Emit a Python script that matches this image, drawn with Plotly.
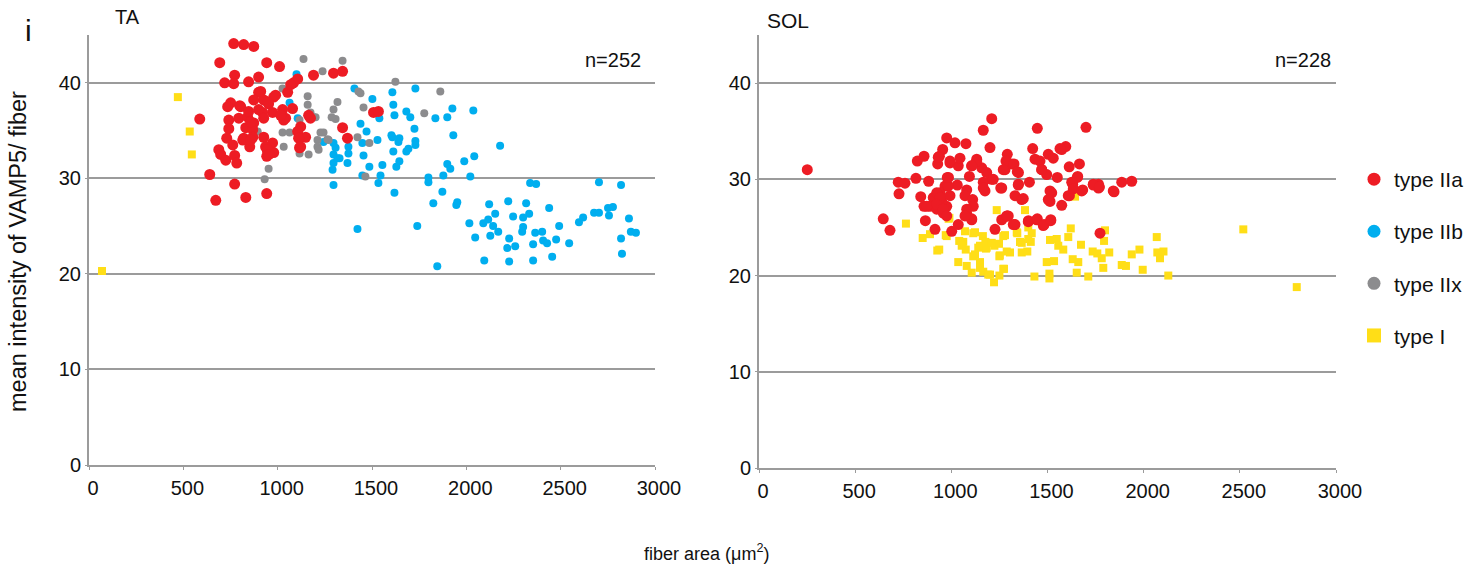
import plotly.graph_objects as go

# ---------------- TA data ----------------
ta_IIa_x = [767, 820, 873, 693, 942, 1010, 772, 899, 719, 767, 846, 1106, 1084, 1190, 1296, 1344,
            899, 873, 926, 979, 1053, 1069, 751, 735, 799, 952, 920, 973, 1026, 1079, 1042, 587,
            741, 794, 841, 873, 741, 831, 868, 1122, 1106, 1164, 1174, 730, 820, 868, 926, 1148,
            1111, 762, 852, 973, 1116, 688, 698, 947, 979, 725, 772, 783, 942, 1344, 1370, 640,
            772, 672, 831, 942, 1508, 1534, 910, 947, 804, 846, 899, 1032, 1016, 926, 857, 936,
            815, 1122, 989, 857, 945, 954]
ta_IIa_y = [44.1, 44.0, 43.8, 42.1, 42.1, 41.7, 40.8, 40.6, 40.0, 39.9, 40.1, 40.4, 40.0, 40.8, 41.0, 41.2,
            39.0, 38.2, 38.2, 38.5, 39.0, 39.8, 37.9, 37.5, 37.6, 37.8, 36.9, 36.9, 37.2, 37.3, 36.3, 36.2,
            36.1, 36.3, 36.4, 35.8, 35.2, 35.3, 35.1, 35.4, 34.9, 36.6, 36.3, 34.2, 34.2, 34.3, 34.3, 34.3,
            34.2, 33.5, 33.3, 33.7, 33.2, 33.0, 32.5, 32.8, 32.7, 31.9, 32.4, 31.6, 32.3, 35.3, 34.2, 30.4,
            29.4, 27.7, 28.0, 28.4, 36.9, 37.0, 39.1, 38.0, 37.5, 37.0, 37.2, 36.1, 36.6, 36.3, 35.9, 33.3,
            34.0, 33.3, 38.7, 34.0, 33.0, 32.5]

ta_IIb_x = [1100, 1063, 1106, 1407, 1608, 1730, 1502, 1613, 1619, 1682, 1703, 1539, 1836, 1899, 1926, 2037,
            1439, 1471, 1725, 1603, 1645, 1640, 1730, 1730, 1529, 1449, 1931, 1296, 1307, 1375, 1375, 1296,
            1317, 1370, 1296, 1291, 1296, 1455, 1613, 1693, 1682, 1486, 1555, 1645, 1629, 1545, 1534, 1449,
            1899, 1915, 1989, 2042, 1878, 2021, 1799, 1799, 1873, 1825, 1619, 1947, 1952, 2179, 1423, 1740,
            1846, 2338, 2370, 2703, 2820, 2016, 2047, 2121, 2153, 2090, 2116, 2142, 2169, 2127, 2222, 2248,
            2317, 2333, 2301, 2301, 2296, 2365, 2402, 2439, 2227, 2217, 2259, 2354, 2407, 2428, 2476, 2492,
            2545, 2455, 2354, 2227, 2095, 2597, 2619, 2677, 2703, 2751, 2777, 2756, 2862, 2820, 2872, 2899,
            2825, 1243, 1608, 1328]
ta_IIb_y = [40.9, 37.9, 36.3, 39.4, 39.0, 39.4, 38.3, 37.7, 36.6, 37.0, 36.4, 36.3, 36.3, 36.4, 37.3, 37.1,
            35.7, 34.9, 35.2, 34.5, 34.2, 33.8, 33.9, 33.5, 34.0, 33.7, 34.5, 33.7, 33.2, 33.3, 32.6, 32.5,
            32.1, 31.6, 31.6, 30.9, 29.3, 32.4, 32.8, 33.1, 32.8, 31.2, 31.4, 31.8, 31.2, 30.3, 29.5, 30.3,
            31.5, 31.0, 31.8, 32.3, 30.3, 30.2, 30.1, 29.6, 28.6, 27.4, 28.5, 27.2, 27.5, 33.4, 24.7, 25.0,
            20.8, 29.5, 29.4, 29.6, 29.3, 25.3, 23.8, 27.3, 26.3, 25.3, 25.7, 25.0, 24.4, 24.0, 27.6, 26.0,
            27.4, 26.3, 25.9, 24.9, 24.4, 24.3, 24.4, 26.9, 23.7, 22.7, 22.9, 23.1, 23.5, 23.2, 23.6, 25.0,
            23.2, 21.8, 21.4, 21.3, 21.4, 25.4, 25.9, 26.4, 26.4, 26.9, 27.0, 26.1, 25.8, 23.7, 24.4, 24.3,
            22.1, 33.8, 34.3, 32.1]

ta_IIx_x = [1137, 1344, 1238, 1624, 1862, 1026, 1159, 1159, 1317, 1296, 1428, 1439, 1455, 1777, 1190, 1307,
            1286, 1026, 1063, 1032, 1116, 1164, 1211, 1227, 1211, 1217, 1243, 1264, 1270, 1423, 1486, 952,
            931, 1465, 894, 1116, 1174, 1201]
ta_IIx_y = [42.5, 42.3, 41.2, 40.1, 39.1, 39.4, 38.6, 37.7, 38.0, 37.2, 39.1, 38.9, 37.4, 36.8, 36.4, 36.2,
            36.4, 34.8, 34.8, 33.3, 32.6, 32.5, 34.0, 34.8, 33.3, 33.0, 34.8, 34.1, 34.0, 34.3, 33.7, 31.0,
            29.9, 30.2, 34.9, 36.1, 36.9, 36.4]

ta_I_x = [471, 534, 545, 69]
ta_I_y = [38.5, 34.9, 32.5, 20.3]

# ---------------- SOL data ----------------
sol_IIa_x = [251, 646, 681, 724, 759, 728, 816, 823, 858, 882, 841, 858, 865, 915, 929, 955,
             938, 976, 1019, 1076, 993, 1036, 1045, 985, 967, 941, 906, 889, 924, 958, 976, 950,
             993, 1031, 1002, 1036, 1094, 1106, 1132, 1158, 1080, 1071, 1111, 1114, 1080, 1106, 1166, 1210,
             1201, 1184, 1210, 1175, 1166, 1227, 1257, 1291, 1279, 1314, 1349, 1331, 1366, 1349, 1296, 1331,
             1262, 1401, 1406, 1423, 1447, 1435, 1470, 1496, 1504, 1530, 1551, 1574, 1595, 1613, 1666, 1657,
             1631, 1608, 1574, 1522, 1513, 1444, 1478, 1517, 1683, 1700, 1738, 1765, 1765, 1773, 1846, 1886,
             1938, 932, 993, 1132, 1106, 1218, 1166, 924, 941, 984, 979, 872, 924, 958, 976, 1080,
             1106, 1071, 1288, 1284, 1326, 1270, 1343, 1461, 1565, 1470, 1655, 1626, 1348, 1262, 1513, 1504,
             1374, 1614, 1634, 1678, 1738, 1770, 1842, 1291, 1322, 1400, 1447, 1482, 1517]
sol_IIa_y = [31.0, 25.9, 24.7, 29.7, 29.6, 28.5, 30.1, 31.9, 32.4, 29.8, 28.2, 27.2, 25.7, 24.8, 31.6, 33.1,
             32.4, 34.3, 33.8, 33.7, 31.7, 31.4, 32.2, 30.2, 29.3, 28.6, 28.1, 27.2, 26.9, 26.5, 27.2, 27.7,
             28.3, 29.4, 24.6, 25.3, 30.3, 31.4, 32.1, 31.2, 28.9, 28.3, 27.9, 27.2, 26.4, 25.8, 35.1, 36.3,
             33.3, 30.7, 30.0, 28.8, 29.7, 24.8, 29.1, 32.6, 31.0, 31.6, 30.7, 28.3, 27.9, 29.5, 26.2, 25.3,
             25.8, 25.7, 29.7, 33.2, 35.3, 32.1, 31.0, 30.5, 32.6, 32.2, 30.2, 33.1, 33.4, 31.3, 31.6, 30.3,
             29.5, 28.3, 27.3, 28.6, 27.7, 25.8, 25.2, 25.7, 28.9, 35.4, 29.5, 29.1, 29.5, 24.4, 28.7, 29.7,
             29.8, 32.3, 31.9, 31.9, 31.4, 30.0, 29.1, 28.6, 28.1, 29.3, 30.2, 27.2, 27.4, 26.9, 26.2, 26.9,
             25.9, 26.2, 26.2, 31.9, 31.6, 31.0, 30.8, 31.9, 33.2, 31.0, 30.2, 29.7, 29.4, 29.1, 28.8, 27.9,
             28.0, 28.3, 29.0, 28.8, 29.4, 29.2, 28.8, 26.2, 25.3, 25.6, 25.9, 25.3, 25.8]

sol_I_x = [764, 851, 889, 927, 937, 971, 986, 1036, 1062, 1075, 1071, 1080, 1106, 1114, 1123, 1140,
           1149, 1164, 1166, 1177, 1180, 1201, 1222, 1224, 1236, 1248, 1252, 1250, 1274, 1279, 1305, 1343,
           1357, 1366, 1383, 1400, 1418, 1413, 1395, 1432, 1496, 1510, 1510, 1513, 1534, 1548, 1556, 1582,
           1608, 1621, 1631, 1643, 1652, 1660, 1674, 1712, 1735, 1759, 1782, 1790, 1794, 1799, 1821, 1886,
           1908, 1938, 1978, 1995, 2068, 2071, 2085, 2103, 2128, 2518, 2796, 990, 976, 1041, 1054, 1114,
           1123, 1149, 1184, 1210, 1250, 1270, 1192, 1149, 1270, 1288, 1340, 1366, 1400]
sol_I_y = [25.4, 23.9, 24.3, 22.6, 22.7, 24.2, 25.9, 21.4, 23.5, 22.7, 24.6, 21.0, 20.3, 22.0, 24.5, 22.9,
           21.4, 24.1, 20.4, 23.5, 22.8, 20.1, 19.3, 23.1, 26.8, 23.3, 22.1, 20.0, 20.7, 24.2, 22.4, 24.4,
           23.5, 22.4, 26.8, 25.0, 24.4, 23.5, 22.5, 19.9, 21.4, 20.2, 19.7, 23.7, 21.5, 23.8, 23.1, 22.7,
           24.0, 24.9, 21.7, 28.2, 20.3, 21.4, 23.2, 19.9, 22.5, 22.3, 21.8, 20.8, 23.6, 24.7, 22.4, 21.1,
           21.0, 22.2, 22.7, 20.6, 24.0, 22.4, 21.8, 22.5, 20.0, 24.8, 18.8, 26.0, 24.1, 23.6, 23.1, 24.4,
           22.2, 23.1, 22.9, 23.4, 22.0, 20.7, 20.1, 20.8, 24.1, 22.5, 24.5, 23.4, 23.8]

legend_names = ["type IIa", "type IIb", "type IIx", "type I"]
x_ticks = [0, 500, 1000, 1500, 2000, 2500, 3000]
y_ticks = [0, 10, 20, 30, 40]

RED = "#ED1C24"
BLUE = "#00AEEF"
GRAY = "#8C8C8E"
YELLOW = "#FFDE17"
AXIS = "#9B9B9B"
FONT = "Liberation Sans, Arial, sans-serif"

fig = go.Figure()

def pts(x, y, color, size, symbol, xa, ya):
    fig.add_trace(go.Scatter(x=x, y=y, mode="markers", xaxis=xa, yaxis=ya, showlegend=False,
                             marker=dict(color=color, size=size, symbol=symbol, line=dict(width=0))))

# TA panel
pts(ta_IIb_x, ta_IIb_y, BLUE, 8, "circle", "x", "y")
pts(ta_IIx_x, ta_IIx_y, GRAY, 8, "circle", "x", "y")
pts(ta_IIa_x, ta_IIa_y, RED, 11, "circle", "x", "y")
pts(ta_I_x, ta_I_y, YELLOW, 8, "square", "x", "y")
# SOL panel
pts(sol_I_x, sol_I_y, YELLOW, 8, "square", "x2", "y2")
pts(sol_IIa_x, sol_IIa_y, RED, 11, "circle", "x2", "y2")

# legend entries
for name, color, sym, sz in zip(legend_names, [RED, BLUE, GRAY, YELLOW],
                                ["circle", "circle", "circle", "square"], [13, 13, 13, 14]):
    fig.add_trace(go.Scatter(x=[None], y=[None], mode="markers", name=name, legendgroup=name,
                             marker=dict(color=color, size=sz, symbol=sym, line=dict(width=0))))

W, H = 1483, 574

xcommon = dict(range=[0, 3000], tickvals=x_ticks, showline=True, linecolor=AXIS, linewidth=2,
               showgrid=False, zeroline=False, ticks="outside", ticklen=3, tickcolor=AXIS, tickwidth=1,
               tickfont=dict(size=20, color="#111"), fixedrange=True, automargin=False,
               ticklabelstandoff=1, ticklabelshift=4)
ycommon = dict(range=[0, 45], tickvals=y_ticks, showline=True, linecolor=AXIS, linewidth=2,
               showgrid=True, gridcolor=AXIS, gridwidth=2, zeroline=False, ticks="outside",
               ticklen=2, tickcolor=AXIS, tickfont=dict(size=20, color="#111"), fixedrange=True,
               automargin=False)

fig.update_layout(
    width=W, height=H,
    margin=dict(l=0, r=0, t=0, b=0, autoexpand=False),
    paper_bgcolor="white", plot_bgcolor="white",
    font=dict(family=FONT, color="#111"),
    xaxis=dict(domain=[89 / W, 655 / W], anchor="y", **xcommon),
    yaxis=dict(domain=[(H - 465) / H, (H - 35) / H], anchor="x", **ycommon),
    xaxis2=dict(domain=[759 / W, 1336 / W], anchor="y2", **xcommon),
    yaxis2=dict(domain=[(H - 468) / H, (H - 35) / H], anchor="x2", **ycommon),
    legend=dict(x=1354 / W, y=1 - 159 / H, xanchor="left", yanchor="top",
                font=dict(size=21, color="#111"), tracegroupgap=21.8, bgcolor="rgba(0,0,0,0)",
                itemwidth=30),
    annotations=[
        dict(text="i", x=28 / W, y=1 - 30 / H, xref="paper", yref="paper", showarrow=False,
             font=dict(size=30), xanchor="center", yanchor="middle"),
        dict(text="TA", x=113 / W, y=1 - 17 / H, xref="paper", yref="paper", showarrow=False,
             font=dict(size=20), xanchor="left", yanchor="middle"),
        dict(text="SOL", x=765 / W, y=1 - 20 / H, xref="paper", yref="paper", showarrow=False,
             font=dict(size=21), xanchor="left", yanchor="middle"),
        dict(text="n=252", x=643 / W, y=1 - 60 / H, xref="paper", yref="paper", showarrow=False,
             font=dict(size=20), xanchor="right", yanchor="middle"),
        dict(text="n=228", x=1333 / W, y=1 - 60 / H, xref="paper", yref="paper",
             showarrow=False, font=dict(size=20), xanchor="right", yanchor="middle"),
        dict(text="mean intensity of VAMP5/ fiber", x=18 / W, y=1 - 252 / H, xref="paper",
             yref="paper", showarrow=False, textangle=-90, font=dict(size=23.5),
             xanchor="center", yanchor="middle"),
        dict(text="fiber area (\u03bcm<sup>2</sup>)", x=706 / W, y=1 - 552 / H, xref="paper",
             yref="paper", showarrow=False, font=dict(size=18), xanchor="center", yanchor="middle"),
    ],
)

fig.write_html(
    "out.html",
    config={"displayModeBar": False, "responsive": False},
    post_script="document.documentElement.style.margin='0px';document.body.style.margin='0px';"
                "document.documentElement.style.overflow='hidden';document.body.style.overflow='hidden';",
)
